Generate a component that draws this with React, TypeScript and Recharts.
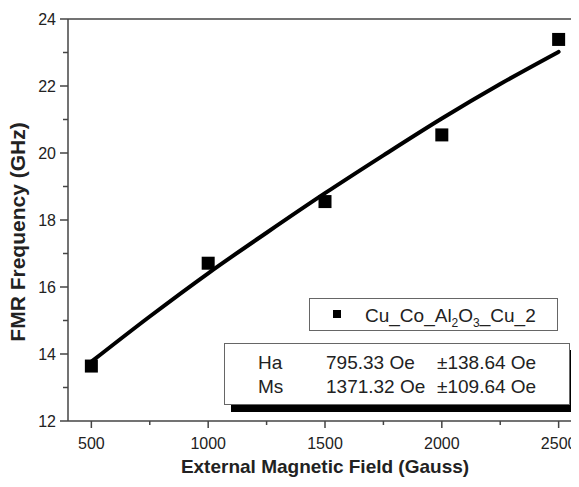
import React from "react";
import {
  ComposedChart,
  Line,
  Scatter,
  XAxis,
  YAxis,
  ReferenceLine,
  Label,
} from "recharts";

// measured FMR points
const fieldGauss = [500, 1000, 1500, 2000, 2500];
const measuredGHz = [13.64, 16.71, 18.55, 20.54, 23.39];

// fitted curve
const fitField = [500, 750, 1000, 1250, 1500, 1750, 2000, 2250, 2500];
const fitGHz = [13.77, 15.12, 16.41, 17.62, 18.8, 19.93, 21.03, 22.06, 23.02];

const xTicks = [500, 750, 1000, 1250, 1500, 1750, 2000, 2250, 2500];
const yTicks = [12, 13, 14, 15, 16, 17, 18, 19, 20, 21, 22, 23, 24];

const fitParams = [
  { name: "Ha", value: "795.33 Oe", err: "±138.64 Oe" },
  { name: "Ms", value: "1371.32 Oe", err: "±109.64 Oe" },
];

const measured = fieldGauss.map((x, i) => ({ x, y: measuredGHz[i] }));
const fit = fitField.map((x, i) => ({ x, y: fitGHz[i] }));

const FONT = '"Liberation Sans", Arial, sans-serif';
const AXIS = "#444";
const TEXT = "#222";

const YTick = (props: any) => {
  const { x, y, payload } = props;
  const major = payload.value % 2 === 0;
  return (
    <g>
      <line x1={x - (major ? 8 : 5)} x2={x} y1={y} y2={y} stroke={AXIS} strokeWidth={1.5} />
      {major && (
        <text x={x - 12} y={y} dy="0.36em" textAnchor="end" fontSize={16} fill={TEXT} fontFamily={FONT}>
          {payload.value}
        </text>
      )}
    </g>
  );
};

const XTick = (props: any) => {
  const { x, y, payload } = props;
  const major = payload.value % 500 === 0;
  return (
    <g>
      <line x1={x} x2={x} y1={y} y2={y + (major ? 7 : 4)} stroke={AXIS} strokeWidth={1.5} />
      {major && (
        <text x={x} y={y + 28} textAnchor="middle" fontSize={16} fill={TEXT} fontFamily={FONT}>
          {payload.value}
        </text>
      )}
    </g>
  );
};

const YTitle = () => (
  <text
    x={25}
    y={232}
    transform="rotate(-90 25 232)"
    textAnchor="middle"
    fontSize={21}
    fontWeight="bold"
    fill={TEXT}
    fontFamily={FONT}
  >
    FMR Frequency (GHz)
  </text>
);

const Square = (props: any) => {
  const { cx, cy } = props;
  return <rect x={cx - 6.5} y={cy - 6.5} width={13} height={13} fill="#000" />;
};

export default function App() {
  return (
    <div
      style={{
        position: "relative",
        width: 579,
        height: 487,
        margin: -8,
        overflow: "hidden",
        background: "#fff",
      }}
    >
      <ComposedChart
        width={600}
        height={487}
        margin={{ top: 19, right: 18, bottom: 0, left: 0 }}
        style={{ fontFamily: FONT }}
      >
        <XAxis
          dataKey="x"
          type="number"
          domain={[400, 2600]}
          ticks={xTicks}
          interval={0}
          height={66}
          tickSize={0}
          tickMargin={0}
          tickLine={false}
          tick={<XTick />}
          axisLine={{ stroke: AXIS, strokeWidth: 1.5 }}
        >
          <Label
            value="External Magnetic Field (Gauss)"
            position="insideBottom"
            offset={14}
            style={{ fontSize: 19, fontWeight: "bold", fill: TEXT, fontFamily: FONT }}
          />
        </XAxis>
        <YAxis
          type="number"
          domain={[12, 24]}
          ticks={yTicks}
          interval={0}
          width={68}
          tickSize={0}
          tickMargin={0}
          tickLine={false}
          tick={<YTick />}
          axisLine={{ stroke: AXIS, strokeWidth: 1.5 }}
        >
          <Label content={<YTitle />} />
        </YAxis>
        <ReferenceLine y={24} stroke={AXIS} strokeWidth={1.5} />
        <Line
          data={fit}
          dataKey="y"
          type="monotone"
          stroke="#000"
          strokeWidth={4}
          strokeLinecap="round"
          dot={false}
          activeDot={false}
          isAnimationActive={false}
        />
        <Scatter
          data={measured}
          dataKey="y"
          name="Cu_Co_Al2O3_Cu_2"
          shape={<Square />}
          isAnimationActive={false}
        />
      </ComposedChart>

      {/* legend */}
      <div
        style={{
          position: "absolute",
          left: 309,
          top: 298,
          width: 247,
          height: 31,
          border: "1px solid #666",
          background: "#fff",
        }}
      >
        <svg width={247} height={31} style={{ display: "block" }}>
          <rect x={23} y={11} width={8} height={8} fill="#000" />
          <text x={55} y={23} fontSize={19} fill={TEXT} fontFamily={FONT}>
            Cu_Co_Al
            <tspan fontSize={12} dy={5}>2</tspan>
            <tspan dy={-5}>O</tspan>
            <tspan fontSize={12} dy={5}>3</tspan>
            <tspan dy={-5}>_Cu_2</tspan>
          </text>
        </svg>
      </div>

      {/* fit parameters */}
      <div
        style={{
          position: "absolute",
          left: 224,
          top: 343,
          width: 344,
          height: 60,
          border: "1px solid #666",
          background: "#fff",
          boxShadow: "7px 7px 0 0 #000",
        }}
      >
        <svg width={344} height={60} style={{ display: "block" }}>
          {fitParams.map((p, i) => (
            <g key={p.name} fontSize={19} fill={TEXT} fontFamily={FONT}>
              <text x={33} y={25 + i * 24}>{p.name}</text>
              <text x={101} y={25 + i * 24}>{p.value}</text>
              <text x={212} y={25 + i * 24}>{p.err}</text>
            </g>
          ))}
        </svg>
      </div>
    </div>
  );
}
